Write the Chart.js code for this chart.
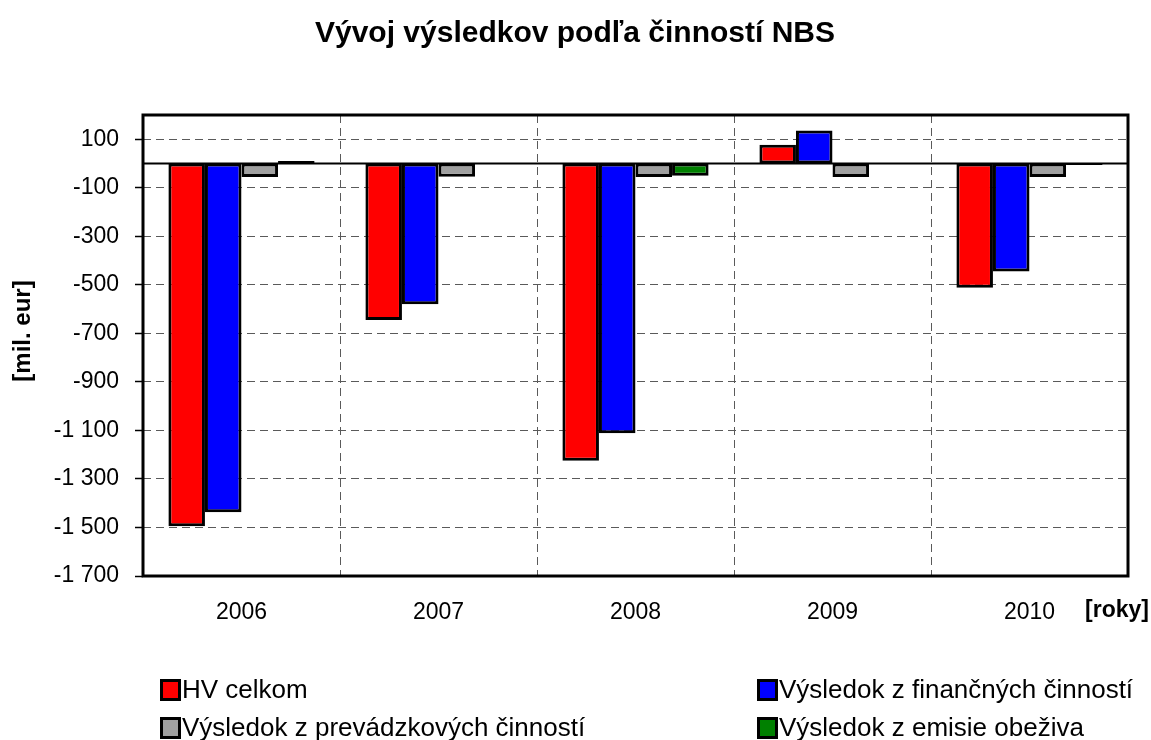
<!DOCTYPE html>
<html>
<head>
<meta charset="utf-8">
<script src="https://cdn.jsdelivr.net/npm/chart.js@4/dist/chart.umd.min.js"></script>
<style>
html,body{margin:0;padding:0;background:#fff;}
#wrap{position:relative;width:1151px;height:740px;overflow:hidden;font-family:"Liberation Sans",Arial,sans-serif;background:#fff;}
#c{position:absolute;left:0;top:0;}
.lg{position:absolute;font-size:26px;line-height:30px;white-space:nowrap;color:#000;}
.bx{position:absolute;width:15px;height:16px;border:3px solid #000;box-sizing:content-box;}
</style>
</head>
<body>
<div id="wrap">
<canvas id="c" width="1151" height="740"></canvas>
<div id="legend"></div>
</div>
<script>
// ---- data ----
const categories = ['2006', '2007', '2008', '2009', '2010'];
const seriesNames = ['HV celkom', 'Výsledok z finančných činností', 'Výsledok z prevádzkových činností', 'Výsledok z emisie obeživa'];
const hvCelkom = [-1495, -645, -1225, 77, -512];
const financne = [-1437, -580, -1112, 136, -445];
const prevadzkove = [-56, -55, -56, -56, -56];
const emisia = [10, 1, -50, 1, -6];
const yTicks = [-1700, -1500, -1300, -1100, -900, -700, -500, -300, -100, 100];
const chartTitle = 'Vývoj výsledkov podľa činností NBS';
const yTitle = '[mil. eur]';
const xTitle = '[roky]';

const FAM = '"Liberation Sans", Arial, sans-serif';
const colors = ['#FF0000', '#0000FF', '#A0A0A0', '#008000'];
const values = [hvCelkom, financne, prevadzkove, emisia];

function fmt(v) {
  const s = Math.abs(v).toString().replace(/\B(?=(\d{3})+(?!\d))/g, ' ');
  return (v < 0 ? '-' : '') + s;
}

const framePlugin = {
  id: 'frame',
  afterDatasetsDraw(chart) {
    const {ctx, chartArea: a, scales} = chart;
    const y0 = scales.y.getPixelForValue(0);
    ctx.save();
    ctx.strokeStyle = '#000';
    ctx.lineWidth = 2;
    ctx.beginPath();
    ctx.moveTo(a.left, y0);
    ctx.lineTo(a.right, y0);
    ctx.stroke();
    ctx.lineWidth = 3;
    ctx.strokeRect(a.left, a.top, a.right - a.left, a.bottom - a.top);
    ctx.fillStyle = '#000';
    ctx.textBaseline = 'middle';
    // x-axis unit label
    ctx.font = 'bold 23px ' + FAM;
    ctx.textAlign = 'right';
    ctx.fillText(xTitle, 1149, 611);
    // chart title
    ctx.font = 'bold 30px ' + FAM;
    ctx.textAlign = 'center';
    ctx.fillText(chartTitle, 575, 34);
    // y-axis title
    ctx.translate(23, 331);
    ctx.rotate(-Math.PI / 2);
    ctx.font = 'bold 24px ' + FAM;
    ctx.fillText(yTitle, 0, 0);
    ctx.restore();
  }
};

new Chart(document.getElementById('c'), {
  type: 'bar',
  data: {
    labels: categories,
    datasets: values.map((vals, i) => ({
      label: seriesNames[i],
      data: vals,
      backgroundColor: colors[i],
      borderColor: '#000',
      borderWidth: 3,
      borderSkipped: false,
      categoryPercentage: 0.742,
      barPercentage: 1.0
    }))
  },
  options: {
    responsive: false,
    animation: false,
    devicePixelRatio: 1,
    layout: {padding: {left: 0, right: 23, top: 115, bottom: 0}},
    plugins: {
      legend: {display: false},
      tooltip: {enabled: false},
      title: {display: false}
    },
    scales: {
      x: {
        type: 'category',
        offset: true,
        afterFit: s => { s.height = 164; },
        grid: {offset: true, color: '#5a5a5a', lineWidth: 1, drawTicks: false},
        border: {display: false, dash: [8, 5]},
        ticks: {color: '#000', font: {family: FAM, size: 23}, padding: 23}
      },
      y: {
        min: -1700,
        max: 200,
        afterBuildTicks: s => { s.ticks = yTicks.map(v => ({value: v})); },
        afterFit: s => { s.width = 143; },
        grid: {color: '#5a5a5a', lineWidth: 1, tickLength: 8, tickColor: '#000', tickWidth: 1.5, tickBorderDash: []},
        border: {display: false, dash: [8, 5]},
        ticks: {color: '#000', font: {family: FAM, size: 23}, padding: 16, callback: v => fmt(v)}
      }
    }
  },
  plugins: [framePlugin]
});

// ---- legend ----
const legendPos = [[160, 0], [757, 0], [160, 1], [757, 1]];
const lg = document.getElementById('legend');
seriesNames.forEach((name, i) => {
  const [x, row] = legendPos[i];
  const boxTop = row === 0 ? 679 : 717;
  const textTop = row === 0 ? 674 : 712;
  const b = document.createElement('div');
  b.className = 'bx';
  b.style.left = x + 'px';
  b.style.top = boxTop + 'px';
  b.style.background = colors[i];
  lg.appendChild(b);
  const t = document.createElement('div');
  t.className = 'lg';
  t.style.left = (x + 22) + 'px';
  t.style.top = textTop + 'px';
  t.textContent = name;
  lg.appendChild(t);
});
</script>
</body>
</html>
